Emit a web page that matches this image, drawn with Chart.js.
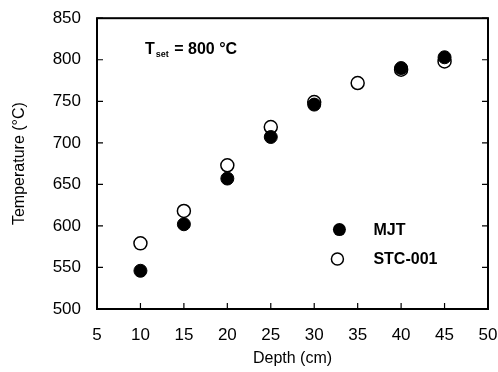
<!DOCTYPE html>
<html>
<head>
<meta charset="utf-8">
<script src="https://cdn.jsdelivr.net/npm/chart.js@4.4.0/dist/chart.umd.min.js"></script>
<style>
  html, body { margin: 0; padding: 0; background: #fff; }
  #wrap { width: 498px; height: 372px; }
</style>
</head>
<body>
<div id="wrap"><canvas id="chart" width="498" height="372"></canvas></div>
<script>
const depths = [10, 15, 20, 25, 30, 35, 40, 45];
const mjt = [546, 602, 657, 707, 746, null, 790, 803];
const stc001 = [579, 618, 673, 719, 749, 772, 788, 798];
const xTicks = [5, 10, 15, 20, 25, 30, 35, 40, 45, 50];
const yTicks = [500, 550, 600, 650, 700, 750, 800, 850];

const font = 'Liberation Sans, Arial, sans-serif';

function toPoints(vals) {
  return depths.map((d, i) => ({ x: d, y: vals[i] })).filter(p => p.y !== null);
}

// frame, inward ticks, legend and T_set note
const extras = {
  id: 'extras',
  afterDraw(chart) {
    const c = chart.ctx;
    const a = chart.chartArea;
    const xs = chart.scales.x, ys = chart.scales.y;
    c.save();
    c.strokeStyle = '#000';
    c.lineWidth = 2;
    c.strokeRect(a.left, a.top, a.right - a.left, a.bottom - a.top);
    c.lineWidth = 1.2;
    c.beginPath();
    xTicks.forEach(v => {
      const px = xs.getPixelForValue(v);
      c.moveTo(px, a.bottom); c.lineTo(px, a.bottom - 6);
    });
    yTicks.forEach(v => {
      const py = ys.getPixelForValue(v);
      c.moveTo(a.left, py); c.lineTo(a.left + 6, py);
      c.moveTo(a.right, py); c.lineTo(a.right - 6, py);
    });
    c.stroke();

    // legend
    const lx = a.left + (a.right - a.left) * 0.62;
    const ly1 = a.top + (a.bottom - a.top) * 0.727;
    const ly2 = a.top + (a.bottom - a.top) * 0.828;
    c.beginPath(); c.arc(lx, ly1, 6.5, 0, Math.PI * 2);
    c.fillStyle = '#000'; c.fill();
    c.beginPath(); c.arc(lx - 2, ly2, 6, 0, Math.PI * 2);
    c.fillStyle = '#fff'; c.fill(); c.lineWidth = 1.5; c.stroke();
    c.fillStyle = '#000';
    c.font = 'bold 16px ' + font;
    c.textBaseline = 'middle';
    c.textAlign = 'left';
    c.fillText('MJT', lx + 34, ly1 + 1);
    c.fillText('STC-001', lx + 34, ly2 + 1);

    // T_set = 800 °C
    const tx = a.left + 48, ty = a.top + 36;
    c.textBaseline = 'alphabetic';
    c.font = 'bold 16px ' + font;
    c.fillText('T', tx, ty);
    const tw = c.measureText('T').width;
    c.font = 'bold 9px ' + font;
    c.fillText('set', tx + tw + 1, ty + 3);
    const sw = c.measureText('set').width;
    c.font = 'bold 16px ' + font;
    c.fillText(' = 800 °C', tx + tw + sw + 2, ty);
    c.restore();
  }
};

new Chart(document.getElementById('chart'), {
  type: 'scatter',
  data: {
    datasets: [{
      label: 'MJT',
      data: toPoints(mjt),
      pointRadius: 6.5,
      pointBackgroundColor: '#000',
      pointBorderColor: '#000',
      pointBorderWidth: 1
    }, {
      label: 'STC-001',
      data: toPoints(stc001),
      pointRadius: 6.5,
      pointBackgroundColor: '#fff',
      pointBorderColor: '#000',
      pointBorderWidth: 1.5
    }]
  },
  options: {
    responsive: false,
    animation: false,
    layout: { padding: { top: 18, right: 10, left: 6, bottom: 0 } },
    plugins: {
      legend: { display: false },
      tooltip: { enabled: false }
    },
    scales: {
      x: {
        type: 'linear',
        min: 5, max: 50,
        afterBuildTicks(s) { s.ticks = xTicks.map(v => ({ value: v })); },
        afterFit(s) { s.height = 63; s.paddingRight = 0; s.paddingLeft = 0; },
        grid: { display: false },
        border: { display: false },
        ticks: { color: '#000', font: { family: font, size: 17 }, padding: 8, maxRotation: 0 },
        title: { display: true, text: 'Depth (cm)', color: '#000', font: { family: font, size: 16 }, padding: { top: 6 } }
      },
      y: {
        min: 500, max: 850,
        afterBuildTicks(s) { s.ticks = yTicks.map(v => ({ value: v })); },
        afterFit(s) { s.width = 91; },
        grid: { display: false },
        border: { display: false },
        ticks: { color: '#000', font: { family: font, size: 17 }, padding: 8 },
        title: { display: true, text: 'Temperature (°C)', color: '#000', font: { family: font, size: 16 }, padding: { bottom: 0 } }
      }
    }
  },
  plugins: [extras]
});
</script>
</body>
</html>
